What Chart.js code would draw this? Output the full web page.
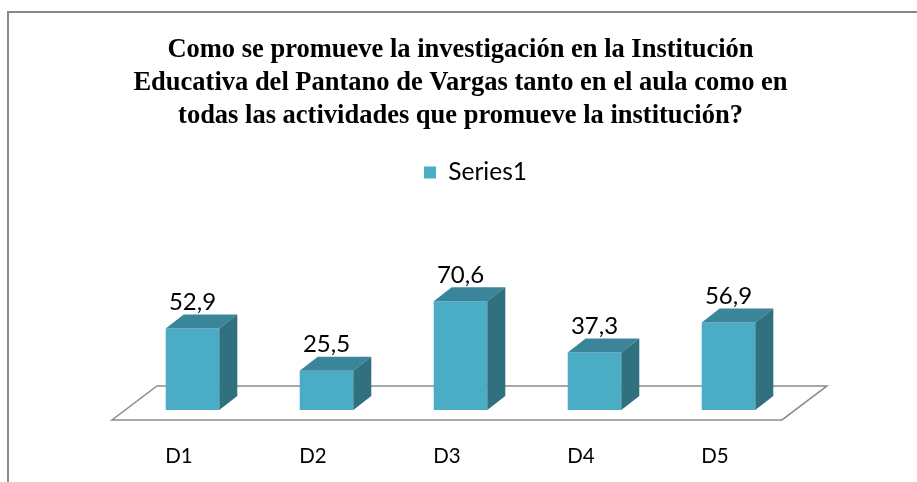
<!DOCTYPE html>
<html>
<head>
<meta charset="utf-8">
<script src="https://cdn.jsdelivr.net/npm/chart.js@4/dist/chart.umd.min.js"></script>
<style>
  html, body { margin: 0; padding: 0; background: #fff; overflow: hidden; }
  #wrap { position: relative; width: 917px; height: 482px; }
</style>
</head>
<body>
<div id="wrap"><canvas id="chart" width="917" height="482"></canvas></div>
<script>
// ---------------- Data ----------------
const categories = ["D1", "D2", "D3", "D4", "D5"];
const series1 = [52.9, 25.5, 70.6, 37.3, 56.9];
const seriesName = "Series1";
const titleLines = [
  "Como se promueve la investigación en la Institución",
  "Educativa del Pantano de Vargas tanto en el aula como en",
  "todas las actividades que promueve la institución?"
];

// ---------------- Styles ----------------
const FRONT = "#4BACC6";
const TOP = "#3A8599";
const SIDE = "#30707F";
const DEPTH_X = 18, DEPTH_Y = 14;

// frame around the whole chart (only left/top edges are visible)
const framePlugin = {
  id: "frame",
  beforeDraw(chart) {
    const ctx = chart.ctx;
    ctx.save();
    ctx.strokeStyle = "#8a8a8a";
    ctx.lineWidth = 2;
    ctx.strokeRect(8, 12, 1000, 600);
    ctx.restore();
  }
};

// legend in the original sits a bit right of centre
const legendShift = {
  id: "legendShift",
  afterLayout(chart) {
    chart.legend.left += 15;
    chart.legend.right += 15;
  }
};

// 3D floor under the bars
const floorPlugin = {
  id: "floor",
  beforeDatasetsDraw(chart) {
    const { ctx, chartArea: a } = chart;
    const base = chart.scales.y.getPixelForValue(0);
    ctx.save();
    ctx.beginPath();
    ctx.moveTo(a.left - 13.5, base + 10);
    ctx.lineTo(a.right - 13.5, base + 10);
    ctx.lineTo(a.right + 31.5, base - 24);
    ctx.lineTo(a.left + 31.5, base - 24);
    ctx.closePath();
    ctx.fillStyle = "#fff";
    ctx.fill();
    ctx.strokeStyle = "#8c8c8c";
    ctx.lineWidth = 1.5;
    ctx.stroke();
    ctx.restore();
  }
};

// top and side faces of each bar, plus value labels
const boxPlugin = {
  id: "box3d",
  afterDatasetsDraw(chart) {
    const ctx = chart.ctx;
    const meta = chart.getDatasetMeta(0);
    ctx.save();
    meta.data.forEach((bar, i) => {
      const l = bar.x - bar.width / 2, r = bar.x + bar.width / 2;
      const t = bar.y, b = bar.base;
      // top
      ctx.beginPath();
      ctx.moveTo(l, t);
      ctx.lineTo(r, t);
      ctx.lineTo(r + DEPTH_X, t - DEPTH_Y);
      ctx.lineTo(l + DEPTH_X, t - DEPTH_Y);
      ctx.closePath();
      ctx.fillStyle = TOP;
      ctx.fill();
      // side
      ctx.beginPath();
      ctx.moveTo(r, t);
      ctx.lineTo(r + DEPTH_X, t - DEPTH_Y);
      ctx.lineTo(r + DEPTH_X, b - DEPTH_Y);
      ctx.lineTo(r, b);
      ctx.closePath();
      ctx.fillStyle = SIDE;
      ctx.fill();
      // value label
      ctx.fillStyle = "#000";
      ctx.font = "24px Lato";
      ctx.textAlign = "center";
      ctx.textBaseline = "middle";
      ctx.fillText(String(series1[i]).replace(".", ","), bar.x, t - 26);
    });
    ctx.restore();
  }
};

new Chart(document.getElementById("chart"), {
  type: "bar",
  data: {
    labels: categories,
    datasets: [{
      label: seriesName,
      data: series1,
      backgroundColor: FRONT,
      borderWidth: 0,
      barPercentage: 0.8,
      categoryPercentage: 0.5
    }]
  },
  options: {
    responsive: false,
    devicePixelRatio: 1,
    animation: false,
    layout: { padding: { top: 20, left: 125.5, right: 121.5, bottom: -21.7 } },
    scales: {
      x: {
        grid: { display: false, drawTicks: false },
        border: { display: false },
        ticks: { color: "#000", font: { family: "Lato", size: 20.5 }, padding: 34.6, labelOffset: -13.5 }
      },
      y: {
        display: false,
        min: 0,
        max: 140
      }
    },
    plugins: {
      title: {
        display: true,
        text: titleLines,
        color: "#000",
        font: { family: "Liberation Serif", size: 26.5, weight: "bold", lineHeight: 1.25 },
        padding: { top: 13.5, bottom: 17.25 }
      },
      legend: {
        display: true,
        position: "top",
        labels: { color: "#000", font: { family: "Lato", size: 24.5 }, boxWidth: 12, boxHeight: 12, padding: 10 }
      },
      tooltip: { enabled: false }
    }
  },
  plugins: [framePlugin, legendShift, floorPlugin, boxPlugin]
});
</script>
</body>
</html>
